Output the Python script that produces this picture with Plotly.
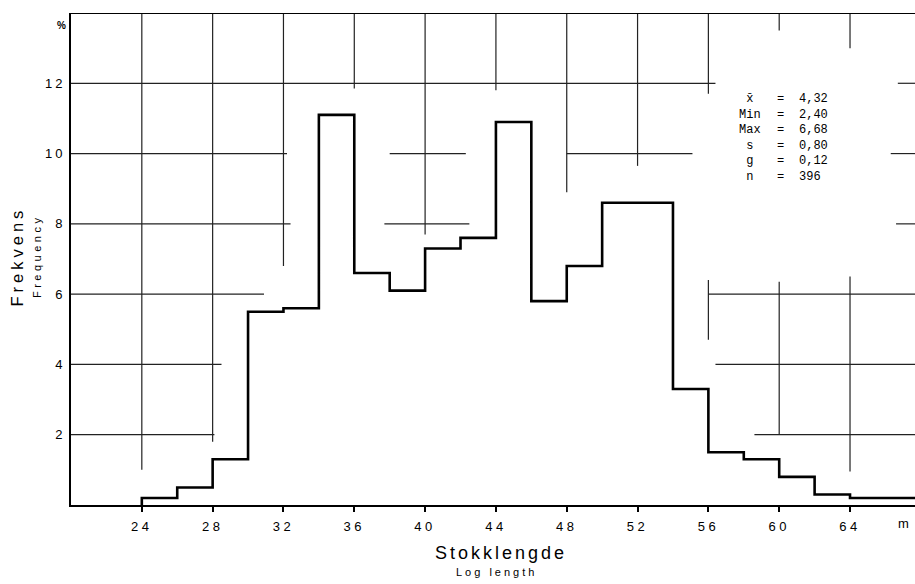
import plotly.graph_objects as go

# ---------------- data ----------------
bin_start = [24, 26, 28, 30, 32, 34, 36, 38, 40, 42, 44, 46, 48, 50, 52, 54, 56, 58, 60, 62, 64, 66]
bin_width = 2
freq_pct = [0.2, 0.5, 1.3, 5.5, 5.6, 11.1, 6.6, 6.1, 7.3, 7.6, 10.9, 5.8, 6.8, 8.6, 8.6,
            3.3, 1.5, 1.3, 0.8, 0.3, 0.2, 0.2]

x_ticks = [24, 28, 32, 36, 40, 44, 48, 52, 56, 60, 64]
y_ticks = [2, 4, 6, 8, 10, 12]

stat_names = ["x\u0304", "Min", "Max", "s", "g", "n"]
stat_values = ["4,32", "2,40", "6,68", "0,80", "0,12", "396"]

# broken grid segments of the scanned original (layout decoration)
v_grid = [(24, 1.0, 14), (28, 1.8, 14), (32, 6.8, 14), (36, 11.85, 14), (40, 7.7, 14),
          (44, 11.8, 14), (48, 8.9, 14), (52, 9.65, 14), (56, 11.7, 14), (56, 4.7, 6.4),
          (60, 13.5, 14), (60, 2.0, 6.35), (64, 13.0, 14), (64, 0.95, 6.5)]
X_MIN, X_MAX = 20, 67.67
h_grid = [(12, X_MIN, 56.4), (12, 66.7, X_MAX),
          (10, X_MIN, 32.2), (10, 38.0, 42.3), (10, 48.0, 55.1), (10, 66.3, X_MAX),
          (8, X_MIN, 32.4), (8, 37.7, 42.5), (8, 66.6, X_MAX),
          (6, X_MIN, 30.9), (6, 56.0, X_MAX),
          (4, X_MIN, 28.5), (4, 56.4, X_MAX),
          (2, X_MIN, 28.1), (2, 58.6, X_MAX)]

# ---------------- figure ----------------
FONT = "Liberation Sans, Arial, sans-serif"
INK = "#000000"
GRID = "#222222"

edges = bin_start + [bin_start[-1] + bin_width]
xs = [edges[0]] + edges
ys = [0] + freq_pct + [freq_pct[-1]]

fig = go.Figure()
fig.add_trace(go.Scatter(x=xs, y=ys, mode="lines", line=dict(shape="hv", color="black", width=2.6),
                         hoverinfo="skip", showlegend=False))

shapes = []
for x, y0, y1 in v_grid:
    shapes.append(dict(type="line", xref="x", yref="y", x0=x, x1=x, y0=y0, y1=y1,
                       line=dict(color=GRID, width=1.2), layer="below"))
for y, x0, x1 in h_grid:
    shapes.append(dict(type="line", xref="x", yref="y", x0=x0, x1=x1, y0=y, y1=y,
                       line=dict(color=GRID, width=1.2), layer="below"))
# top frame line
shapes.append(dict(type="line", xref="x", yref="y", x0=X_MIN, x1=X_MAX, y0=14, y1=14,
                   line=dict(color="black", width=1.8)))


def spaced(t, px):
    return f'<span style="letter-spacing:{px}px">{t}</span>'


def paper_text(x, y, text, size, angle=0, family=FONT):
    return dict(x=x, y=y, xref="paper", yref="paper", text=text, showarrow=False,
                textangle=angle, xanchor="center", yanchor="middle",
                font=dict(family=family, size=size, color=INK))


MONO = "Liberation Mono, monospace"
annotations = [
    paper_text(0.9858, -0.0386, "m", 13),
    paper_text(-0.0118, 0.9736, "<b>%</b>", 10),
    paper_text(-0.0634, 0.506, spaced("Frekvens", 4), 16.5, -90),
    paper_text(-0.0403, 0.506, spaced("Frequency", 3.5), 11, -90),
    paper_text(0.5095, -0.0976, spaced("Stokklengde", 3), 18),
    paper_text(0.5041, -0.136, spaced("Log length", 3), 11),
    # statistics box
    dict(x=58.35, y=10.44, xref="x", yref="y", xanchor="center", yanchor="middle", align="center",
         text="<br>".join(stat_names), showarrow=False,
         font=dict(family=MONO, size=12, color=INK)),
    dict(x=60.1, y=10.44, xref="x", yref="y", xanchor="center", yanchor="middle", align="center",
         text="<br>".join(["="] * len(stat_names)), showarrow=False,
         font=dict(family=MONO, size=12, color=INK)),
    dict(x=61.0, y=10.44, xref="x", yref="y", xanchor="left", yanchor="middle", align="left",
         text="<br>".join(stat_values), showarrow=False,
         font=dict(family=MONO, size=12, color=INK)),
]

fig.update_layout(
    width=915, height=584,
    margin=dict(l=71, r=0, t=13, b=79),
    paper_bgcolor="white", plot_bgcolor="white",
    shapes=shapes, annotations=annotations,
    showlegend=False,
    xaxis=dict(range=[X_MIN, X_MAX], tickmode="array", tickvals=x_ticks,
               ticktext=[spaced(str(v), 3.5) for v in x_ticks],
               ticks="outside", ticklen=5, tickwidth=1.6, tickcolor="black",
               showgrid=False, zeroline=False, showline=True, linecolor="black", linewidth=2.2,
               tickfont=dict(family=FONT, size=13, color=INK), ticklabelstandoff=3,
               fixedrange=True),
    yaxis=dict(range=[0, 14], tickmode="array", tickvals=y_ticks,
               ticktext=[spaced(str(v), 3) for v in y_ticks],
               ticks="", showgrid=False, zeroline=False, showline=True,
               linecolor="black", linewidth=1.8,
               tickfont=dict(family=FONT, size=13, color=INK), ticklabelstandoff=1,
               fixedrange=True),
)

fig.write_html("out.html")
